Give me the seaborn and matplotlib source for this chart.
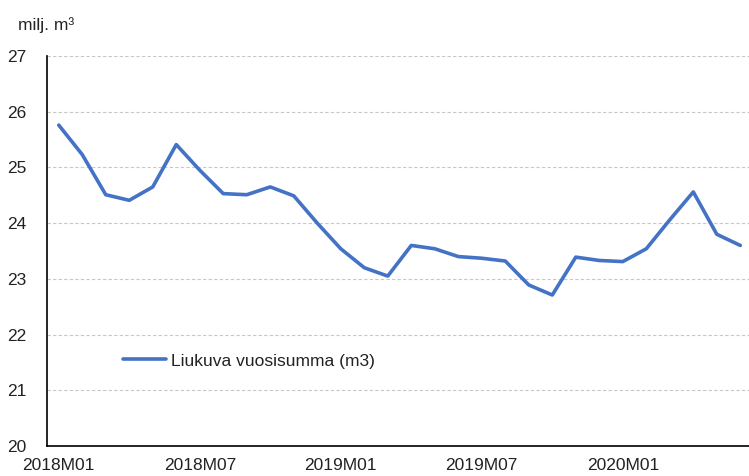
import numpy as np
import pandas as pd
import seaborn as sns
import matplotlib.pyplot as plt

months = [f"{y}M{m:02d}" for y in (2018, 2019, 2020) for m in range(1, 13)][:30]
values = [25.76, 25.23, 24.51, 24.41, 24.65, 25.41, 24.95, 24.53, 24.51, 24.65,
          24.49, 24.00, 23.54, 23.20, 23.05, 23.60, 23.54, 23.40, 23.37, 23.32,
          22.89, 22.71, 23.39, 23.33, 23.31, 23.54, 24.06, 24.56, 23.80, 23.60]
label_months = ["2018M01", "2018M07", "2019M01", "2019M07", "2020M01"]
series_name = "Liukuva vuosisumma (m3)"

df = pd.DataFrame({"kk": months, "arvo": values})
df["i"] = np.arange(len(df))

sns.set_style("white")
plt.rcParams["font.family"] = ["Liberation Sans", "DejaVu Sans"]
plt.rcParams["font.size"] = 12.5

fig = plt.figure(figsize=(7.49, 4.76), dpi=100)
ax = fig.add_axes([47 / 749, 30 / 476, 702 / 749, 390 / 476])

sns.lineplot(data=df, x="i", y="arvo", ax=ax, color="#4472C4", linewidth=2.6,
             label=series_name)

ax.set_xlim(-0.5, 29.37)
ax.set_ylim(20, 27)
ax.set_yticks(range(20, 28))
ax.yaxis.grid(True, color="#c8c8c8", linestyle=(0, (3, 2)), linewidth=0.8)
ax.set_axisbelow(True)

# category-style axis: tick marks at boundaries, labels at centers
pos = [months.index(m) for m in label_months]
ax.set_xticks([p - 0.5 for p in pos])
ax.set_xticklabels([])
ax.set_xticks(pos, minor=True)
ax.set_xticklabels(label_months, minor=True)
ax.tick_params(axis="x", which="major", length=5, width=1.2, color="black", direction="out")
ax.tick_params(axis="x", which="minor", length=0, pad=9, labelsize=12.5, labelcolor="#222222")
ax.tick_params(axis="y", length=0, pad=15, labelsize=12.5, labelcolor="#222222")

ax.set_xlabel("")
ax.set_ylabel("")
for s in ("top", "right"):
    ax.spines[s].set_visible(False)
for s in ("left", "bottom"):
    ax.spines[s].set_color("black")
    ax.spines[s].set_linewidth(1.2)

ax.legend(loc="center left", bbox_to_anchor=(0.108, 0.218), frameon=False,
          borderpad=0, borderaxespad=0, handlelength=2.5, handletextpad=0.25,
          fontsize=12.5, labelcolor="#222222")

fig.text(18 / 749, 1 - 25 / 476, "milj. m³", fontsize=12.5, color="#222222", va="center", ha="left")

fig.savefig("out.png", dpi=100)
